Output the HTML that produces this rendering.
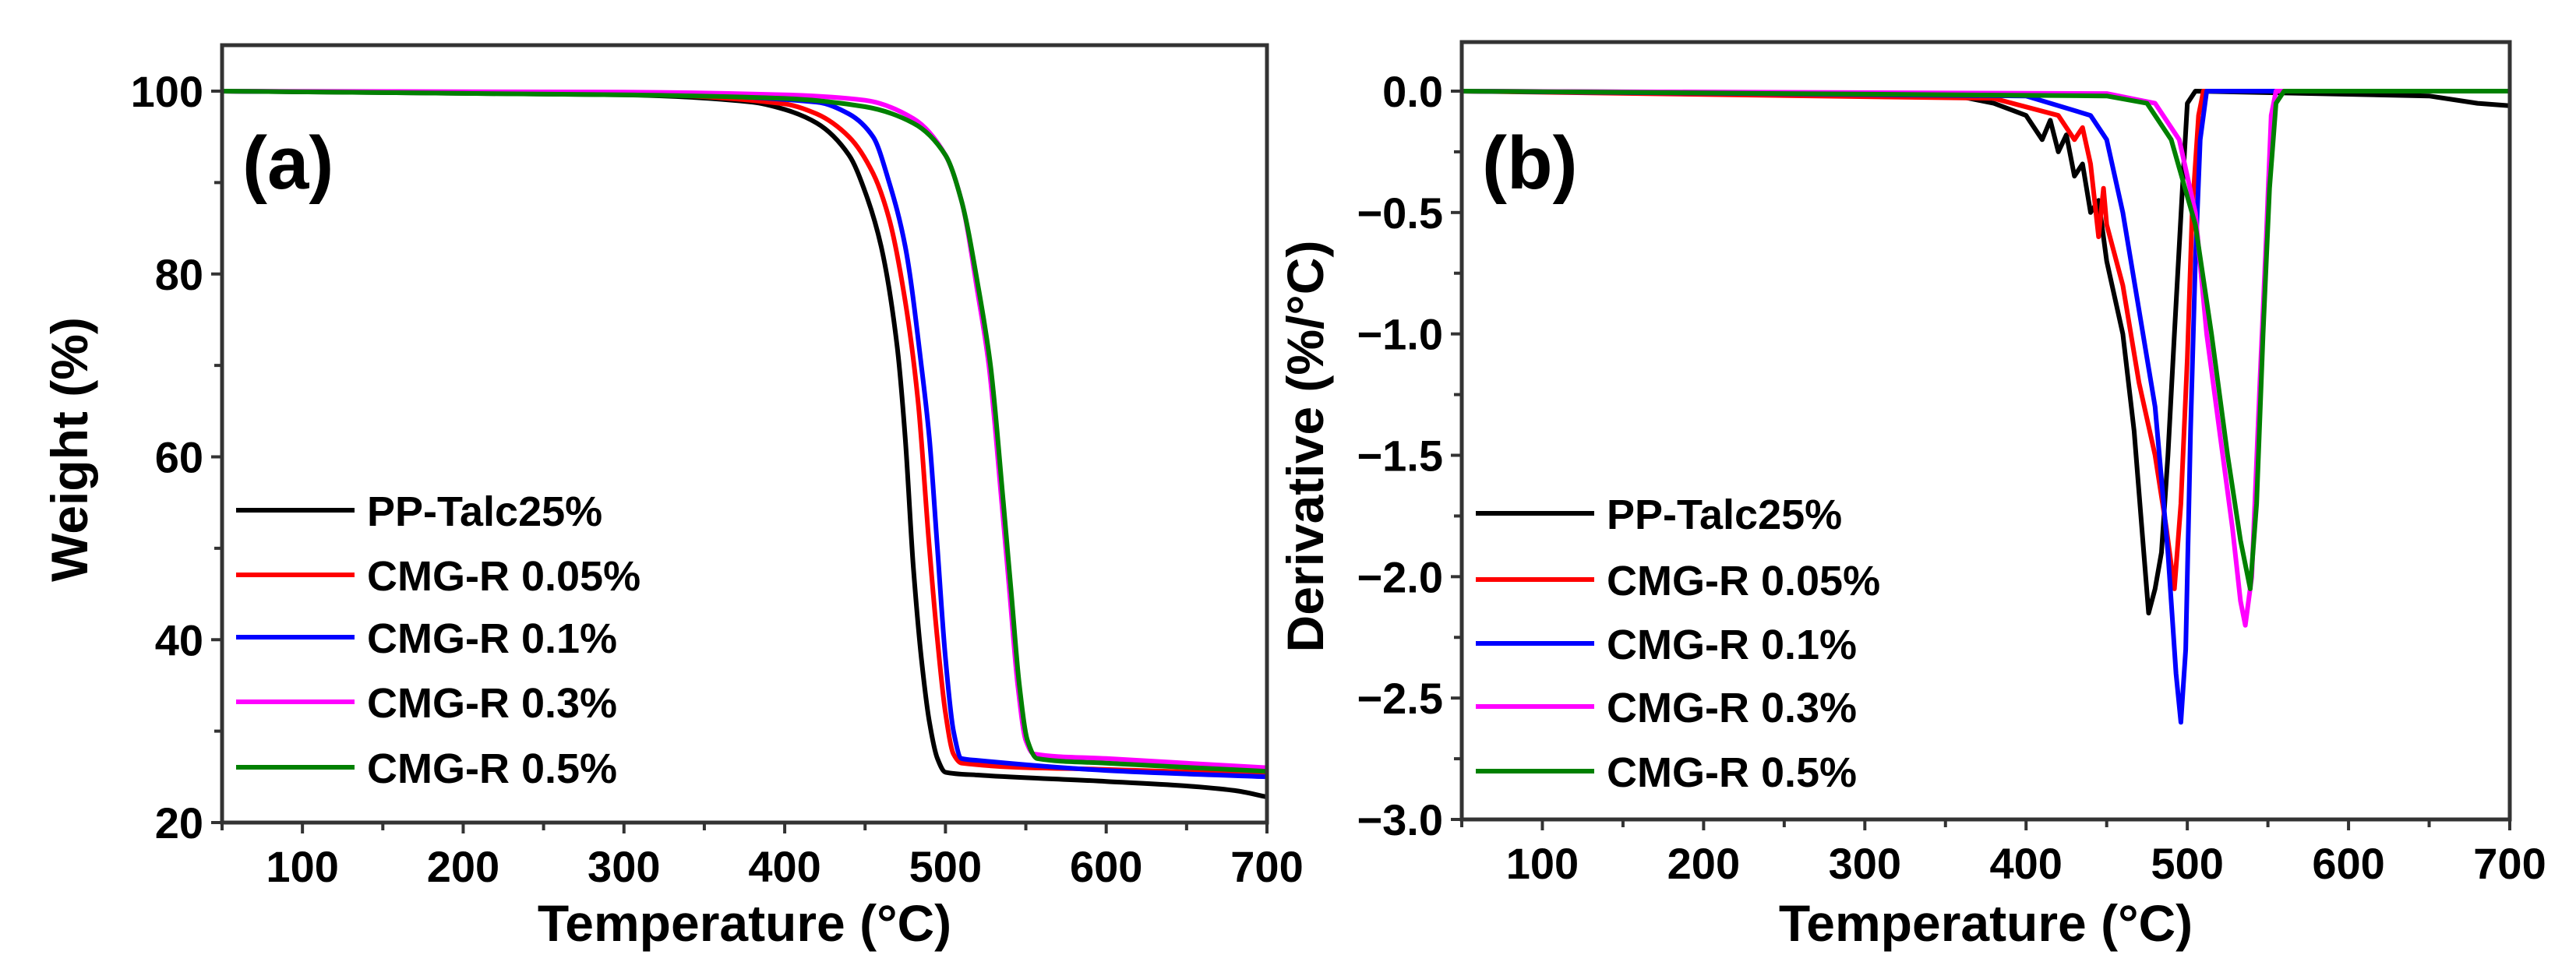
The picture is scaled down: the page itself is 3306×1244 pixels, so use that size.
<!DOCTYPE html>
<html><head><meta charset="utf-8"><style>
html,body{margin:0;padding:0;background:#fff;}
svg{display:block;font-family:"Liberation Sans",sans-serif;font-weight:bold;}
</style></head><body>
<svg id="chart" width="3306" height="1244" viewBox="0 0 3306 1244" xmlns="http://www.w3.org/2000/svg"></svg>
<script>
const seriesNames = ["PP-Talc25%","CMG-R 0.05%","CMG-R 0.1%","CMG-R 0.3%","CMG-R 0.5%"];
const seriesColors = ["#000000","#ff0000","#0000ff","#ff00ff","#008000"];
const xTicks = [100,200,300,400,500,600,700];
const yTicksA = [20,40,60,80,100];
const yTicksB = [0,-0.5,-1,-1.5,-2,-2.5,-3];
const yTickLabelsB = ["0.0","\u22120.5","\u22121.0","\u22121.5","\u22122.0","\u22122.5","\u22123.0"];
// TGA weight curves [temperature, weight]
const tga0 = [[50,100],[300,99.6],[380,98.8],[400,98],[420,96.5],[440,93],[450,89],[460,83],[470,72],[475,62],[480,48],[485,38],[490,31],[495,27],[500,25.5],[520,25.2],[600,24.5],[650,24],[680,23.5],[700,22.8]];
const tga1 = [[50,100],[300,99.7],[400,98.6],[420,97.5],[440,95],[455,91],[465,86],[475,77],[483,66],[490,50],[495,40],[500,32],[505,27.5],[510,26.5],[600,25.8],[700,25.3]];
const tga2 = [[50,100],[300,99.7],[420,98.8],[440,97.5],[455,95],[465,90],[475,83],[485,70],[490,62],[495,50],[500,38],[505,30],[510,27],[520,26.8],[600,25.7],[700,25]];
const tga3 = [[50,100],[300,99.9],[400,99.6],[450,99],[480,97],[500,93],[510,88],[520,78],[527,70],[535,55],[540,45],[545,35],[550,29],[555,27.5],[600,27],[700,26]];
const tga4 = [[50,100],[300,99.6],[400,99.2],[450,98.3],[480,96.5],[500,93],[510,88],[520,79],[528,70],[536,55],[541,45],[546,35],[551,29],[557,27],[600,26.5],[700,25.6]];
// DTG derivative curves [temperature, derivative]
const dtg0 = [[50,0],[350,-0.01],[380,-0.05],[400,-0.1],[410,-0.2],[415,-0.12],[420,-0.25],[425,-0.18],[430,-0.35],[435,-0.3],[440,-0.5],[445,-0.45],[450,-0.7],[460,-1.0],[467,-1.4],[473,-1.9],[476,-2.15],[480,-2.05],[484,-1.9],[488,-1.5],[492,-1.0],[497,-0.4],[500,-0.05],[505,0],[650,-0.02],[680,-0.05],[700,-0.06]];
const dtg1 = [[50,0],[380,-0.03],[420,-0.1],[430,-0.2],[435,-0.15],[440,-0.3],[445,-0.6],[448,-0.4],[450,-0.55],[460,-0.8],[470,-1.2],[480,-1.5],[487,-1.8],[492,-2.05],[496,-1.7],[500,-1.1],[503,-0.5],[507,-0.1],[510,0],[700,0]];
const dtg2 = [[50,0],[400,-0.02],[440,-0.1],[450,-0.2],[460,-0.5],[470,-0.9],[480,-1.3],[488,-1.9],[493,-2.4],[496,-2.6],[499,-2.3],[502,-1.4],[505,-0.7],[508,-0.2],[512,0],[700,0]];
const dtg3 = [[50,0],[450,-0.01],[480,-0.05],[495,-0.2],[505,-0.5],[512,-1.0],[520,-1.4],[528,-1.8],[533,-2.1],[536,-2.2],[540,-2.0],[545,-1.2],[549,-0.6],[552,-0.1],[555,0],[700,0]];
const dtg4 = [[50,0],[450,-0.02],[475,-0.05],[490,-0.2],[505,-0.55],[515,-1.0],[525,-1.5],[533,-1.85],[539,-2.05],[543,-1.7],[547,-1.0],[551,-0.4],[555,-0.05],[560,0],[700,0]];

const NS="http://www.w3.org/2000/svg";
const svg=document.getElementById('chart');
function mk(tag,attrs,parent){const e=document.createElementNS(NS,tag);for(const k in attrs)e.setAttribute(k,attrs[k]);(parent||svg).appendChild(e);return e;}

// monotone cubic path through pixel points
function monoPath(P){
  const n=P.length; if(n<2) return '';
  const dx=[],m=[],t=new Array(n);
  for(let i=0;i<n-1;i++){dx[i]=P[i+1][0]-P[i][0];m[i]=(P[i+1][1]-P[i][1])/dx[i];}
  t[0]=m[0];t[n-1]=m[n-2];
  for(let i=1;i<n-1;i++){ if(m[i-1]*m[i]<=0) t[i]=0; else { const w1=2*dx[i]+dx[i-1],w2=dx[i]+2*dx[i-1]; t[i]=(w1+w2)/(w1/m[i-1]+w2/m[i]); } }
  let d='M'+P[0][0].toFixed(1)+','+P[0][1].toFixed(1);
  for(let i=0;i<n-1;i++){
    const h=dx[i]/3;
    d+=' C'+(P[i][0]+h).toFixed(1)+','+(P[i][1]+t[i]*h).toFixed(1)+' '+(P[i+1][0]-h).toFixed(1)+','+(P[i+1][1]-t[i+1]*h).toFixed(1)+' '+P[i+1][0].toFixed(1)+','+P[i+1][1].toFixed(1);
  }
  return d;
}

function panel(p){
  const g=mk('g',{});
  
  
  const sx=v=>p.x0+(v-50)/(700-50)*(p.x1-p.x0);
  const sy=v=>p.yA+(v-p.vA)/(p.vB-p.vA)*(p.yB-p.yA);
  p.series.forEach((s,i)=>{
    const pts=s.map(d=>[sx(d[0]),sy(d[1])]);
    const el=p.smooth
      ? mk('path',{d:monoPath(pts),fill:'none',stroke:seriesColors[i],'stroke-width':6,'stroke-linejoin':'round'},g)
      : mk('polyline',{points:pts.map(q=>q[0].toFixed(1)+','+q[1].toFixed(1)).join(' '),fill:'none',stroke:seriesColors[i],'stroke-width':6,'stroke-linejoin':'round'},g);
    
    
  });
  const fr=mk('rect',{x:p.x0,y:p.top,width:p.x1-p.x0,height:p.bottom-p.top,fill:'none',stroke:'#333','stroke-width':5},g);
  
  
  for(let v=50;v<=700;v+=50){
    const major=v%100===0;
    mk('line',{x1:sx(v),x2:sx(v),y1:p.bottom,y2:p.bottom+(major?14:10),stroke:'#333','stroke-width':4},g);
  }
  xTicks.forEach(v=>{
    const t=mk('text',{x:sx(v),y:p.bottom+76,'text-anchor':'middle','font-size':56},g);
    t.textContent=v;
    
    
  });
  p.minor.forEach(v=>mk('line',{x1:p.x0-10,x2:p.x0,y1:sy(v),y2:sy(v),stroke:'#333','stroke-width':4},g));
  p.yTicks.forEach((v,i)=>{
    mk('line',{x1:p.x0-14,x2:p.x0,y1:sy(v),y2:sy(v),stroke:'#333','stroke-width':4},g);
    const t=mk('text',{x:p.x0-24,y:sy(v)+20,'text-anchor':'end','font-size':56},g);
    t.textContent=p.labels[i];
    
    
  });
  const xt=mk('text',{x:(p.x0+p.x1)/2,y:1208,'text-anchor':'middle','font-size':66},g);
  xt.textContent='Temperature (\u00B0C)';
  
  
  const yt=mk('text',{x:0,y:0,'text-anchor':'middle','font-size':66,transform:`translate(${p.ytx},${(p.top+p.bottom)/2+20}) rotate(-90)`},g);
  yt.textContent=p.ytitle;
  
  
  const pl=mk('text',{x:p.x0+26,y:242,'font-size':96},g);
  pl.textContent=p.tag;
  
  
  p.legY.forEach((y,i)=>{
    const lg=mk('g',{},g);
    
    
    mk('line',{x1:p.x0+18,x2:p.x0+170,y1:y,y2:y,stroke:seriesColors[i],'stroke-width':6},lg);
    const t=mk('text',{x:p.x0+186,y:y+20,'font-size':54},lg);
    t.textContent=seriesNames[i];
  });
}
const minA=[];for(let v=30;v<=90;v+=20)minA.push(v);
const minB=[];for(let v=-0.25;v>=-2.75;v-=0.5)minB.push(v);
panel({name:'panel-a-tga',smooth:true,x0:285,x1:1626,top:58,bottom:1056,yA:117,vA:100,yB:1056,vB:20,yTicks:yTicksA,labels:yTicksA.map(String),minor:minA,series:[tga0,tga1,tga2,tga3,tga4],ytitle:'Weight (%)',ytx:112,tag:'(a)',legY:[655,738,818,901,985]});
panel({name:'panel-b-dtg',smooth:false,x0:1876,x1:3221,top:54,bottom:1052,yA:117,vA:0,yB:1052,vB:-3,yTicks:yTicksB,labels:yTickLabelsB,minor:minB,series:[dtg0,dtg1,dtg2,dtg3,dtg4],ytitle:'Derivative (%/\u00B0C)',ytx:1698,tag:'(b)',legY:[659,744,826,907,990]});
</script>
</body></html>
